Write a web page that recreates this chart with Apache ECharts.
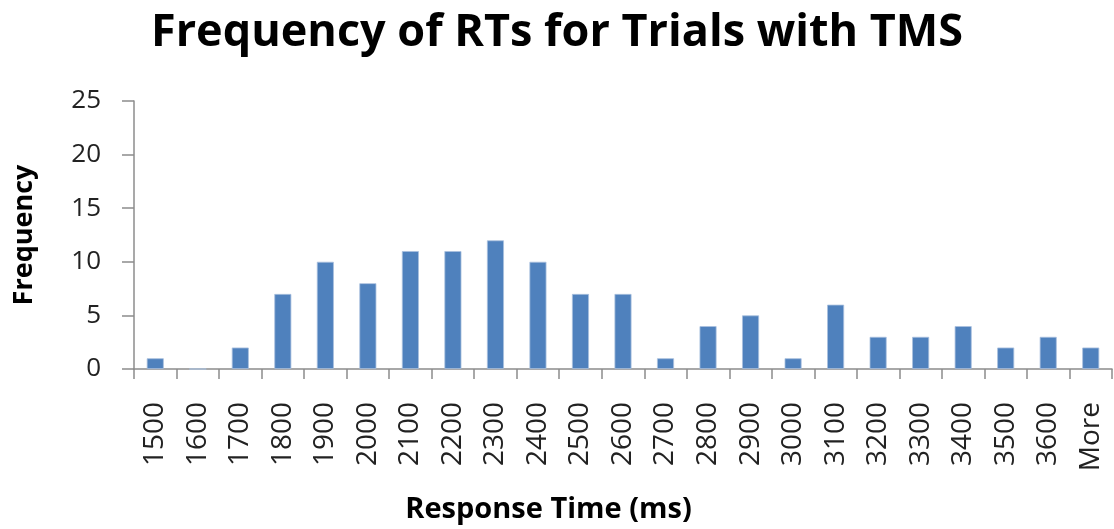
<!DOCTYPE html>
<html>
<head>
<meta charset="utf-8">
<script src="https://cdn.jsdelivr.net/npm/echarts@6/dist/echarts.min.js"></script>
<style>
  html, body { margin: 0; padding: 0; background: #fff; }
  #chart { width: 1114px; height: 529px; }
</style>
</head>
<body>
<div id="chart"></div>
<script>
const categories = ['1500', '1600', '1700', '1800', '1900', '2000', '2100', '2200', '2300', '2400', '2500', '2600',
  '2700', '2800', '2900', '3000', '3100', '3200', '3300', '3400', '3500', '3600', 'More']
const frequency = [1, 0, 2, 7, 10, 8, 11, 11, 12, 10, 7, 7, 1, 4, 5, 1, 6, 3, 3, 4, 2, 3, 2]
const yTicks = { min: 0, max: 25, interval: 5 }

const FONT = '"Open Sans", Lato, sans-serif'
const AXIS_COLOR = '#8c8c8c'

const chart = echarts.init(document.getElementById('chart'))
chart.setOption({
  animation: false,
  title: {
    text: 'Frequency of RTs for Trials with TMS',
    left: 'center',
    top: 6,
    textStyle: { fontFamily: FONT, fontWeight: 'bold', fontSize: 45, color: '#000' }
  },
  grid: { left: 134, right: 2, top: 101, bottom: 159 },
  xAxis: {
    type: 'category',
    data: categories,
    name: 'Response Time (ms)',
    nameLocation: 'middle',
    nameGap: 126,
    // the axis title is centred on the whole picture, not on the plot
    nameTextStyle: { fontFamily: FONT, fontWeight: 'bold', fontSize: 29, color: '#000', padding: [0, 149, 0, 0] },
    axisLine: { lineStyle: { color: AXIS_COLOR, width: 1.5 } },
    axisTick: { show: true, length: 10, lineStyle: { color: AXIS_COLOR, width: 1.5 } },
    axisLabel: { rotate: 90, margin: 33, fontFamily: FONT, fontSize: 28, color: '#222', interval: 0 }
  },
  yAxis: {
    type: 'value',
    min: yTicks.min,
    max: yTicks.max,
    interval: yTicks.interval,
    name: 'Frequency',
    nameLocation: 'middle',
    nameGap: 96,
    nameTextStyle: { fontFamily: FONT, fontWeight: 'bold', fontSize: 27, color: '#000' },
    axisLine: { show: true, lineStyle: { color: AXIS_COLOR, width: 1.5 } },
    axisTick: { show: true, length: 12, lineStyle: { color: AXIS_COLOR, width: 1.5 } },
    axisLabel: { margin: 33, fontFamily: FONT, fontSize: 26, color: '#222' },
    splitLine: { show: false }
  },
  series: [{
    type: 'bar',
    data: frequency,
    barCategoryGap: '60%',
    itemStyle: { color: '#4f81bd', borderColor: '#a9c0de', borderWidth: 0.8 }
  }]
})
</script>
</body>
</html>
